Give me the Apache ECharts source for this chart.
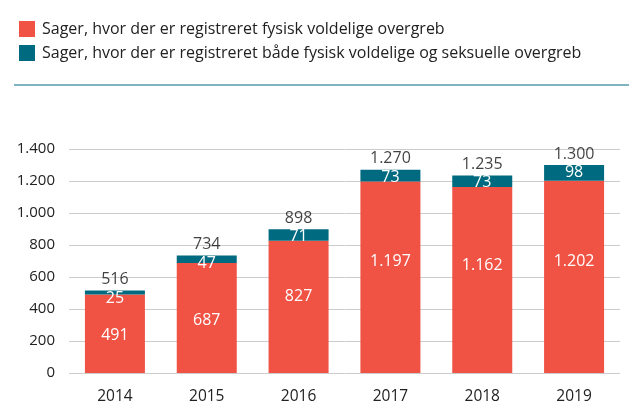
<!DOCTYPE html>
<html>
<head>
<meta charset="utf-8">
<script src="https://cdn.jsdelivr.net/npm/echarts@6/dist/echarts.min.js"></script>
<style>
  html, body { margin: 0; padding: 0; background: #fff; }
  #chart { width: 629px; height: 405px; }
</style>
</head>
<body>
<div id="chart"></div>
<script>
const years = ['2014', '2015', '2016', '2017', '2018', '2019']
const physical = [491, 687, 827, 1197, 1162, 1202]
const both = [25, 47, 71, 73, 73, 98]
const totals = physical.map((v, i) => v + both[i])

const seriesNames = [
  'Sager, hvor der er registreret fysisk voldelige overgreb',
  'Sager, hvor der er registreret både fysisk voldelige og seksuelle overgreb'
]

const RED = '#F05244'
const TEAL = '#006B80'
const FONT = '"Open Sans", "Noto Sans", sans-serif'

const fmt = v => String(v).replace(/\B(?=(\d{3})+(?!\d))/g, '.')

const chart = echarts.init(document.getElementById('chart'))

chart.setOption({
  animation: false,
  textStyle: { fontFamily: FONT },
  legend: {
    orient: 'vertical',
    left: 14,
    top: 16,
    itemWidth: 16,
    itemHeight: 16,
    itemGap: 8,
    icon: 'rect',
    textStyle: { fontSize: 16, color: '#222', padding: [0, 0, 0, 2] },
    data: seriesNames
  },
  graphic: [{
    type: 'line',
    shape: { x1: 14, y1: 85, x2: 629, y2: 85 },
    style: { stroke: '#7FB3C0', lineWidth: 2 }
  }],
  grid: { left: 69, right: 9, top: 149, bottom: 32 },
  xAxis: {
    type: 'category',
    data: years,
    axisLine: { show: false },
    axisTick: { show: false },
    axisLabel: { color: '#222', fontSize: 15.5, margin: 16 }
  },
  yAxis: {
    type: 'value',
    min: 0,
    max: 1400,
    interval: 200,
    axisLabel: { color: '#222', fontSize: 15, margin: 14, formatter: fmt },
    splitLine: { lineStyle: { color: '#CCCCCC', width: 1 } }
  },
  series: [
    {
      name: seriesNames[0],
      type: 'bar',
      stack: 'total',
      barWidth: 60,
      itemStyle: { color: RED },
      data: physical.map(v => ({
        value: v,
        label: {
          show: true,
          position: v < 700 ? ['50%', '52%'] : ['50%', '42%'],
          align: 'center',
          verticalAlign: 'middle',
          color: '#FFFFFF',
          fontSize: 16,
          formatter: p => fmt(p.value)
        }
      }))
    },
    {
      name: seriesNames[1],
      type: 'bar',
      stack: 'total',
      barWidth: 60,
      itemStyle: { color: TEAL },
      label: {
        show: true,
        position: 'insideTop',
        distance: 0,
        color: '#FFFFFF',
        fontSize: 16,
        lineHeight: 15,
        formatter: p => fmt(p.value)
      },
      data: both
    },
    {
      type: 'scatter',
      symbolSize: 0,
      silent: true,
      legendHoverLink: false,
      label: {
        show: true,
        position: 'top',
        distance: 3,
        color: '#111',
        fontSize: 16,
        formatter: p => fmt(p.value)
      },
      data: totals
    }
  ]
})
</script>
</body>
</html>
